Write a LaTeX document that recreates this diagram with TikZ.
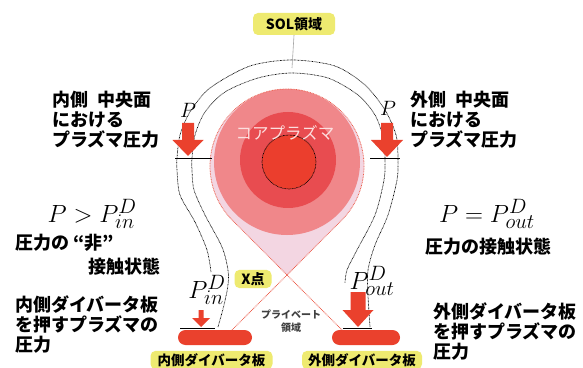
\documentclass[tikz,border=0pt]{standalone}
\usepackage{fontspec}
\newfontfamily\jp{Noto Sans CJK JP}
\usetikzlibrary{calc}

\definecolor{plasma}{RGB}{234,65,45}
\definecolor{corepink}{RGB}{240,135,138}
\definecolor{coremid}{RGB}{232,76,80}
\definecolor{corein}{RGB}{235,62,45}
\definecolor{seplav}{RGB}{243,214,226}
\definecolor{tagyellow}{RGB}{238,234,112}

\tikzstyle{flux}=[draw=black, line width=0.7pt, dash pattern=on 0.7pt off 0.7pt]
\tikzstyle{sepx}=[draw=plasma!85, line width=0.8pt, dash pattern=on 0.8pt off 0.8pt]
\tikzstyle{tag}=[fill=tagyellow, rounded corners=5pt, inner sep=2.5pt, font=\jp\bfseries\fontsize{14}{14}\selectfont]
\tikzstyle{annot}=[align=left, inner sep=0pt, font=\jp\bfseries\fontsize{18}{20}\selectfont]
\tikzstyle{plate}=[rectangle, fill=plasma, rounded corners=7.5pt, minimum height=15pt, inner sep=0pt]
\tikzstyle{pres}=[inner sep=0pt]

% pressure arrow: x, tip y, length, shaft half width, head half width, head length
\newcommand{\pressarrow}[6]
{
  \fill[plasma] (#1,#2) -- (#1+#5,#2+#6) -- (#1+#4,#2+#6) -- (#1+#4,#2+#3)
    -- (#1-#4,#2+#3) -- (#1-#4,#2+#6) -- (#1-#5,#2+#6) -- cycle;
}

\begin{document}
\begin{tikzpicture}[x=1pt, y=1pt]
	\useasboundingbox[fill=white] (0,0) rectangle (583,367);

	\coordinate (c) at (287,201);
	\coordinate (xpt) at (287,92.1);
	\coordinate (tl) at (232.55,146.55);
	\coordinate (tr) at (341.45,146.55);
	\coordinate (legl) at (232,37);
	\coordinate (legr) at (342,37);

	% open flux lines
	\draw[flux] plot[smooth] coordinates {(211,95) (207,117) (195,145) (180,172) (177,197) (177,209) (180,232) (190,255) (210,279) (250,301) (292,307) (335,301) (365,282) (385,257) (396,232) (398,209) (397,187) (388,152) (375,122) (368,97) (368,72) (370,40)};
	\draw[flux] plot[smooth] coordinates {(218,40) (224,62) (228,82) (228,97) (222,120) (205,152) (194,177) (192,197) (192,209) (195,232) (205,255) (225,275) (258,289) (292,294) (328,289) (358,272) (375,252) (383,230) (385,209) (384,187) (375,152) (357,117) (347,97) (345,84)};

	% separatrix and core
	\fill[seplav] (tl) arc[start angle=225, end angle=-45, radius=77] -- (xpt) -- cycle;
	\fill[corepink] (287,205) circle (73);
	\fill[coremid] (288,207) circle (48);
	\fill[corein] (289,205) circle (27);
	\draw[flux] (289,205) circle (27);
	\draw[sepx] (legl) -- (tr) arc[start angle=-45, end angle=225, radius=77] -- (legr);
	\node[font=\jp\fontsize{16.5}{16.5}\selectfont, text={rgb,255:red,252;green,222;blue,222}] (core) at (285,234) {コアプラズマ};

	% plates
	\node[plate, minimum width=74pt] (inplate) at (215,29.5) {};
	\node[plate, minimum width=68pt] (outplate) at (366,29.5) {};
	\draw[line width=0.8pt] (180,39) -- (215,39);
	\draw[line width=0.8pt] (343,39) -- (372,39);
	\draw[line width=0.8pt] (175,209) -- (212,209);
	\draw[line width=0.8pt] (370,209) -- (400,209);

	% pressure arrows
	\pressarrow{188}{211}{33}{6}{15.5}{16}
	\pressarrow{387}{210}{34}{6}{16}{17}
	\pressarrow{201}{40}{17}{2.5}{9}{9}
	\pressarrow{358}{40}{35}{7.5}{15.5}{17}

	\node[pres, font=\huge] (pinmid) at (188,257) {$P$};
	\node[pres, font=\huge] (poutmid) at (388,259) {$P$};
	\node[pres, font=\Huge] (pind) at (207,77) {$P^{D}_{in}$};
	\node[pres, font=\Huge] (poutd) at (372,86) {$P^{D}_{out}$};
	\node[pres, font=\Huge] (ineq) at (92,153) {$P > P^{D}_{in}$};
	\node[pres, font=\Huge] (eq) at (487,153) {$P = P^{D}_{out}$};

	% tags
	\node[tag, minimum width=82pt, minimum height=22pt] (sol) at (294,343) {SOL領域};
	\coordinate (solfoot) at (292,299);
	\draw[gray!70, line width=0.6pt] (sol.south) -- (solfoot);
	\node[tag, minimum width=37pt, minimum height=18pt] (xtag) at (253,88) {X点};
	\node[tag, minimum width=122pt, minimum height=18pt, font=\jp\bfseries\fontsize{13.5}{13.5}\selectfont] (intag) at (211.5,7) {内側ダイバータ板};
	\node[tag, minimum width=120pt, minimum height=18pt, font=\jp\bfseries\fontsize{13.5}{13.5}\selectfont] (outtag) at (362,7) {外側ダイバータ板};
	\node[align=center, text=black!75, font=\jp\bfseries\fontsize{10}{13}\selectfont] (priv) at (291,46) {プライベート\\領域};

	% annotations
	\node[annot, anchor=west] (inmidtxt) at (52,247) {内側\hspace{0.5em}中央面\\における\\プラズマ圧力};
	\node[annot, anchor=west] (outmidtxt) at (410,247) {外側\hspace{0.5em}中央面\\における\\プラズマ圧力};
	\node[annot, anchor=west] (detach) at (15,124) {圧力の “非”};
	\node[annot, anchor=west] (detach2) at (88,100) {接触状態};
	\node[annot] (attach) at (488,120) {圧力の接触状態};
	\node[annot, anchor=west] (inplatetxt) at (15,42) {内側ダイバータ板\\を押すプラズマの\\圧力};
	\node[annot, anchor=west] (outplatetxt) at (433,35) {外側ダイバータ板\\を押すプラズマの\\圧力};
\end{tikzpicture}
\end{document}
